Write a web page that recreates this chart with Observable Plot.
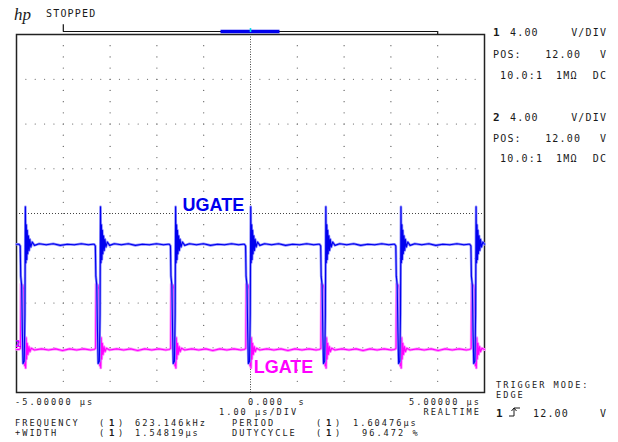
<!DOCTYPE html>
<html><head><meta charset="utf-8">
<script src="https://cdn.jsdelivr.net/npm/d3@7"></script>
<script src="https://cdn.jsdelivr.net/npm/@observablehq/plot@0.6"></script>
<style>
html,body{margin:0;padding:0;background:#fff;}
#chart svg{display:block;}
</style></head><body><div id="chart"></div>
<script>
// ---- data ----
// time base: -5 .. +5 us (1 us/div), volts: both channels 4 V/div, 12 V at centre
const xDomain = [-5, 5];
const yDomain = [-4, 28];
// UGATE rising edges (us), trigger at 0
const pulseTimes = [-4.815, -3.21, -1.605, 0, 1.605, 3.21, 4.815];
// UGATE shape around each rising edge: offset (us) and volts
const ugDt = [-0.13, -0.105, -0.095, -0.075, -0.06, -0.045, -0.02, -0.005, 0.005, 0.015, 0.025, 0.035, 0.045, 0.055, 0.07, 0.085, 0.1, 0.12, 0.15, 0.2, 0.3, 0.45, 0.6, 0.75, 0.9, 1.05, 1.2, 1.35, 1.45];
const ugV  = [9.25, 9.1, 6.4, 5.6, 1.5, -1.4, -1.2, 3.0, 12.6, 7.6, 11.0, 7.9, 10.5, 8.4, 10.0, 8.7, 9.7, 9.0, 9.45, 9.15, 9.3, 9.2, 9.3, 9.15, 9.25, 9.2, 9.3, 9.2, 9.25];
// LGATE shape around each UGATE rising edge
const lgDt = [-0.13, -0.1, -0.09, -0.07, -0.05, -0.03, -0.02, -0.01, 0.0, 0.01, 0.02, 0.03, 0.045, 0.06, 0.08, 0.1, 0.13, 0.2, 0.35, 0.5, 0.65, 0.8, 0.95, 1.1, 1.25, 1.4, 1.47];
const lgV  = [-0.15, -0.05, 5.7, 5.5, 5.6, 5.2, 0.8, -1.6, 0.9, -1.8, 0.9, -1.0, 0.4, -0.6, 0.1, -0.35, -0.05, -0.2, -0.1, -0.2, -0.1, -0.25, -0.1, -0.2, -0.1, -0.2, -0.15];
// graticule
const xGridMajor = [-4, -3, -2, -1, 1, 2, 3, 4];
const yGridMajor = [0, 4, 8, 16, 20, 24];
const xMinorStep = 0.2, yMinorStep = 1;
const triggerLevel = 12;
const memBar = [-4, 4];
const viewBar = [-0.63, 0.63];
// labels
const traceLabels = [
  {text: "UGATE", t: -1.453, v: 12.23, color: "#0000ee"},
  {text: "LGATE", t: 0.067, v: -2.24, color: "#ff00ff"}
];

function build(dts, vs) {
  const pts = [{t: -5, v: vs[vs.length - 1]}];
  for (const t0 of pulseTimes) for (let i = 0; i < dts.length; i++) {
    const t = t0 + dts[i];
    if (t > -5 && t < 5) pts.push({t, v: vs[i]});
  }
  pts.push({t: 5, v: vs[vs.length - 1]});
  pts.sort((a, b) => a.t - b.t);
  return pts;
}
const ugate = build(ugDt, ugV);
const lgate = build(lgDt, lgV);

// graticule dots
const hDots = [];
for (const y of yGridMajor) for (let i = 1; i < 50; i++) hDots.push({t: -5 + i * xMinorStep, v: y});
const vDots = [];
for (const x of xGridMajor) for (let j = 1; j < 32; j++) vDots.push({t: x, v: -4 + j * yMinorStep});

const chart = Plot.plot({
  width: 618, height: 442,
  marginLeft: 16, marginRight: 134, marginTop: 34, marginBottom: 50,
  x: {domain: xDomain, axis: null},
  y: {domain: yDomain, axis: null},
  style: {background: "#fff", overflow: "visible"},
  marks: [
    Plot.dot(hDots, {x: "t", y: "v", r: 0.6, fill: "#555", stroke: null}),
    Plot.dot(vDots, {x: "t", y: "v", r: 0.6, fill: "#555", stroke: null}),
    Plot.ruleY([triggerLevel], {stroke: "#444", strokeWidth: 1, strokeDasharray: "1,2"}),
    Plot.ruleX([0], {stroke: "#444", strokeWidth: 1, strokeDasharray: "1,1.5"}),
    Plot.frame({stroke: "#222", strokeWidth: 1.5}),
    // memory bar on top
    Plot.ruleY([{y: 28}], {y: "y", x1: () => memBar[0], x2: () => memBar[1], dy: -3, stroke: "#111", strokeWidth: 1.2}),
    Plot.ruleX([{x: memBar[0]}], {x: "x", y1: 28, y2: 28.6, dy: -3, stroke: "#111", strokeWidth: 1.2}),
    Plot.ruleX([{x: memBar[1]}], {x: "x", y1: 28, y2: 28.27, stroke: "#111", strokeWidth: 1.2}),
    Plot.ruleY([{y: 28}], {y: "y", x1: () => viewBar[0], x2: () => viewBar[1], dy: -3, stroke: "#0000ee", strokeWidth: 3.5}),
    Plot.ruleX([{x: 0}], {x: "x", y1: 28, y2: 28.35, dy: -2, stroke: "#00d8e8", strokeWidth: 1.6}),
    // traces
    Plot.line(lgate, {x: "t", y: "v", stroke: "#ff90ff", strokeWidth: 2.8}),
    Plot.line(lgate, {x: "t", y: "v", stroke: "#ff00ff", strokeWidth: 1.1}),
    Plot.line(ugate, {x: "t", y: "v", stroke: "#8c8cff", strokeWidth: 2.6}),
    Plot.line(ugate, {x: "t", y: "v", stroke: "#0000ee", strokeWidth: 1.1}),
    Plot.text(traceLabels, {x: "t", y: "v", text: "text", fill: "color", textAnchor: "start", lineAnchor: "bottom",
      fontSize: 18, fontWeight: "bold", fontFamily: "Liberation Sans, Arial, sans-serif"})
  ]
});
document.getElementById("chart").appendChild(chart);

// ---- screen annotations ----
const svg = d3.select(chart);
const MONO = "DejaVu Sans Mono, monospace";
function txt(x, y, s, o = {}) {
  const size = o.size || 8.6;
  const ls = o.ls !== undefined ? o.ls : 7.2 - 0.602 * size;
  const anchor = o.anchor || "start";
  svg.append("text").attr("x", anchor === "end" ? x + ls : x).attr("y", y)
    .attr("font-family", o.family || MONO).attr("font-size", size)
    .attr("letter-spacing", ls)
    .attr("font-weight", o.bold ? "bold" : "normal")
    .attr("font-style", o.italic ? "italic" : "normal")
    .attr("text-anchor", anchor)
    .attr("fill", o.color || "#1a1a1a").text(s);
}
txt(14, 20, "hp", {family: "Liberation Serif, serif", italic: true, size: 17, ls: 0});
txt(46, 17, "STOPPED", {size: 10});

// channel blocks
const chanRows = [[1, 36, 58, 79], [2, 121, 142, 162]];
for (const [ch, y1, y2, y3] of chanRows) {
  txt(493, y1, String(ch), {bold: true, size: 11, ls: 0});
  txt(510, y1, "4.00", {size: 10});
  txt(606, y1, "V/DIV", {anchor: "end", size: 10});
  txt(493, y2, "POS:", {size: 10});
  txt(580, y2, "12.00", {anchor: "end", size: 10});
  txt(606, y2, "V", {anchor: "end", size: 10});
  txt(500, y3, "10.0:1", {size: 10});
  txt(556, y3, "1MΩ", {size: 10});
  txt(606, y3, "DC", {anchor: "end", size: 10});
}
// trigger block
txt(496, 388, "TRIGGER MODE:");
txt(496, 398, "EDGE");
txt(496, 417, "1", {bold: true, size: 11, ls: 0});
svg.append("path").attr("d", "M509,416 h5 v-8 h6").attr("fill", "none").attr("stroke", "#1a1a1a").attr("stroke-width", 1);
svg.append("path").attr("d", "M511.5,411 l2.5,-3 l2.5,3").attr("fill", "none").attr("stroke", "#1a1a1a").attr("stroke-width", 1);
txt(533, 417, "12.00", {size: 10});
txt(606, 417, "V", {anchor: "end", size: 10});

// time axis
txt(15, 405, "-5.00000 µs");
txt(248, 405, "0.000  s");
txt(479, 405, "5.00000 µs", {anchor: "end"});
txt(219, 415, "1.00 µs/DIV");
txt(479, 415, "REALTIME", {anchor: "end"});
// measurements
const meas = [
  {label: "FREQUENCY", lx: 15, px: 99, value: "623.146kHz", vx: 135, y: 426},
  {label: "+WIDTH", lx: 15, px: 99, value: "1.54819µs", vx: 135, y: 436},
  {label: "PERIOD", lx: 232, px: 316, value: "1.60476µs", vx: 353, y: 426},
  {label: "DUTYCYCLE", lx: 232, px: 316, value: "96.472 %", vx: 362, y: 436}
];
for (const m of meas) {
  txt(m.lx, m.y, m.label);
  txt(m.px, m.y, "(");
  txt(m.px + 10, m.y, "1", {bold: true, size: 9, ls: 0});
  txt(m.px + 19, m.y, ")");
  txt(m.vx, m.y, m.value);
}
// ground markers
txt(15.5, 347, "1", {size: 8, color: "#0000ee", bold: true, ls: 0});
txt(15.5, 347, "2", {size: 8, color: "#ff00ff", bold: true, ls: 0});
</script></body></html>
